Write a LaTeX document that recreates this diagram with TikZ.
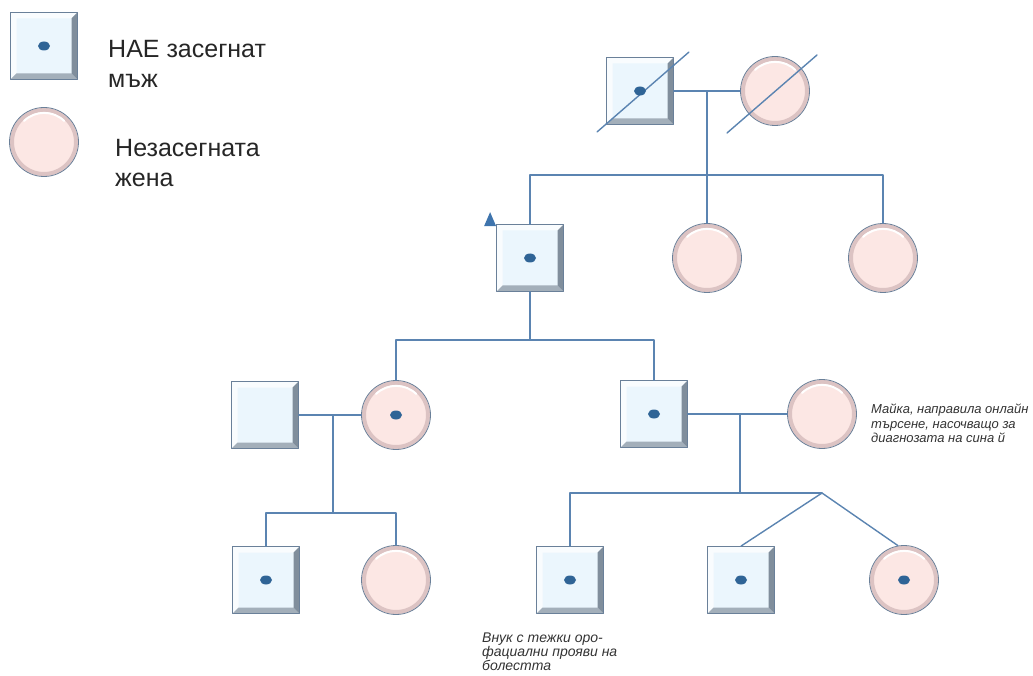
\documentclass[tikz,border=0pt]{standalone}
\usepackage{fontspec}
\setmainfont{Liberation Sans}
\usetikzlibrary{calc}
\definecolor{lineblue}{HTML}{5B84B1}
\definecolor{edgegray}{HTML}{6A8099}
\definecolor{malefill}{HTML}{EBF6FD}
\definecolor{bevelbot}{HTML}{A3AFBA}
\definecolor{bevelright}{HTML}{808E9C}
\definecolor{femfill}{HTML}{FCE7E4}
\definecolor{femring}{HTML}{DCC3C3}
\definecolor{dotblue}{HTML}{2F6496}
\definecolor{markblue}{HTML}{3E74AD}
\tikzset{
  male/.style={rectangle, draw=edgegray, fill=malefill, line width=0.8, inner sep=0, minimum size=67,
    path picture={
      \fill[white!70!malefill] (path picture bounding box.north west) -- (path picture bounding box.north east) -- ([shift={(-6,6)}]path picture bounding box.north east) -- ([shift={(6,6)}]path picture bounding box.north west) -- ([shift={(6,-6)}]path picture bounding box.south west) -- (path picture bounding box.south west) -- cycle;
      \fill[bevelbot] (path picture bounding box.south west) -- (path picture bounding box.south east) -- ([shift={(-6,-6)}]path picture bounding box.south east) -- ([shift={(6,-6)}]path picture bounding box.south west) -- cycle;
      \fill[bevelright] (path picture bounding box.south east) -- (path picture bounding box.north east) -- ([shift={(-6,6)}]path picture bounding box.north east) -- ([shift={(-6,-6)}]path picture bounding box.south east) -- cycle;
    }},
  female/.style={circle, draw=edgegray, fill=femfill, line width=0.8, inner sep=0, minimum size=69,
    path picture={
      \draw[femring, line width=4] (path picture bounding box.center) circle (32);
      \draw[white, line width=2] ([shift={(-20,-21)}]path picture bounding box.center) arc (226:314:29);
    }},
  link/.style={lineblue, line width=1.4},
  legend/.style={font=\fontsize{25}{30}\selectfont, align=left, inner sep=0, text=black!85},
  note/.style={font=\itshape\fontsize{13}{14.5}\selectfont, align=left, inner sep=0, text=black!80}
}
\begin{document}
\begin{tikzpicture}[line cap=round,line join=round,x=1pt,y=-1pt]
\useasboundingbox (0,0) rectangle (1033,676);
% legend
\node[male] (lm) at (44,46) {};
\node[female] (lf) at (44,142) {};
\node[legend, anchor=north west] (lmt) at (108,40) {НАЕ засегнат\\мъж};
\node[legend, anchor=north west] (lft) at (115,139) {Незасегната\\жена};
% generation I
\node[male] (gf) at (640,91) {};
\node[female] (gm) at (775,91) {};
\draw[link] (gf.east) -- (gm.west);
\coordinate (m1) at ($(gf.east)!0.5!(gm.west)$);
\coordinate (s1) at (707,175);
\draw[link] (m1) -- (s1);
\draw[link] ([shift={(-9,7)}]gf.south west) -- ([shift={(15,-5)}]gf.north east);
\draw[link] ([shift={(-48,42)}]gm.center) -- ([shift={(42,-36)}]gm.center);
% generation II
\node[male] (p) at (530,258) {};
\node[female] (a2) at (707,258) {};
\node[female] (a3) at (883,258) {};
\draw[link] (p.north) |- (s1) -| (a3.north);
\draw[link] (s1) -- (a2.north);
\fill[markblue] ([shift={(-12,2)}]p.north west) -- ([shift={(0,2)}]p.north west) -- ([shift={(-6,-12)}]p.north west) -- cycle;
% generation III
\node[male] (uf) at (265,415) {};
\node[female] (mo) at (396,415) {};
\node[male] (fa) at (654,414) {};
\node[female] (ma) at (822,414) {};
\coordinate (s2) at (530,340);
\draw[link] (p.south) -- (s2);
\draw[link] (mo.north) |- (s2) -| (fa.north);
\draw[link] (uf.east) -- (mo.west);
\draw[link] (fa.east) -- (ma.west);
\coordinate (m3) at (333,415);
\coordinate (m4) at (740,414);
\coordinate (s3) at ($(m3)+(0,98)$);
\coordinate (s4) at ($(m4)+(0,78)$);
\coordinate (tw) at (822,493);
% generation IV
\node[male] (c1) at (266,580) {};
\node[female] (c2) at (396,580) {};
\node[male] (son) at (570,580) {};
\node[male] (twm) at (741,580) {};
\node[female] (twf) at (904,580) {};
\draw[link] (m3) -- (s3);
\draw[link] (c1.north) |- (s3) -| (c2.north);
\draw[link] (m4) -- (s4);
\draw[link] (son.north) |- (tw);
\draw[link] (twm.north) -- (tw) -- (twf.100);
\foreach \n in {lm,gf,p,mo,fa,c1,son,twm,twf}
  \fill[dotblue] (\n) ellipse (6 and 4.5);
\node[note, anchor=north west] (mnote) at (871,404) {Майка, направила онлайн\\търсене, насочващо за\\диагнозата на сина й};
\node[note, font=\itshape\fontsize{14}{14}\selectfont, anchor=north west] (snote) at (482,633) {Внук с тежки оро-\\фациални прояви на\\болестта};
\end{tikzpicture}
\end{document}
